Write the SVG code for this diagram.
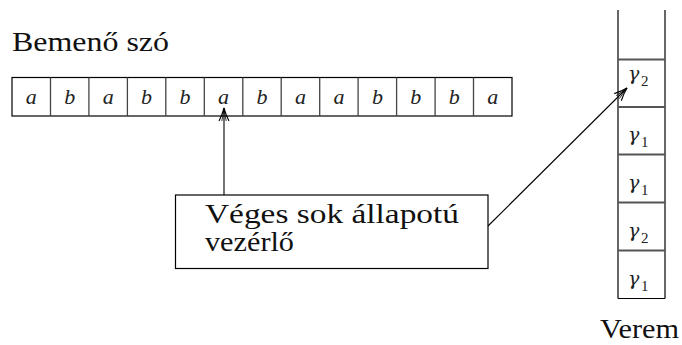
<svg xmlns="http://www.w3.org/2000/svg" width="682" height="345" viewBox="0 0 682 345">
  <style>
    .lbl { font-family: 'Liberation Serif', 'DejaVu Serif', serif; font-size: 28px; fill: #111; }
    .sym { font-family: 'Liberation Serif', 'DejaVu Serif', serif; font-style: italic; font-size: 22px; fill: #222; text-anchor: middle; }
    .gam { font-family: 'DejaVu Serif', 'Liberation Serif', serif; font-style: italic; font-size: 19px; fill: #222; }
    .sub { font-family: 'Liberation Serif', 'DejaVu Serif', serif; font-size: 15px; fill: #222; }
    .box { fill: #fff; stroke: #000; stroke-width: 1.2; }
    .div { stroke: #444; stroke-width: 1.3; }
    .sdiv { stroke: #555; stroke-width: 1.8; }
    .edge { stroke: #000; stroke-width: 1.1; fill: none; }
  </style>
  <defs>
    <marker id="arr" viewBox="-14 -7 16 14" markerWidth="16" markerHeight="14" refX="0" refY="0" orient="auto" markerUnits="userSpaceOnUse">
      <path d="M -13,-5 Q -6,-1.5 0,0 Q -6,1.5 -13,5" fill="none" stroke="#000" stroke-width="1.1"/>
      <path d="M -13,-2.2 Q -6,-0.6 0,0 Q -6,0.6 -13,2.2" fill="none" stroke="#000" stroke-width="0.8"/>
    </marker>
  </defs>

  <g id="label-input">
    <text class="lbl" x="12" y="51" textLength="157" lengthAdjust="spacingAndGlyphs">Bemenő szó</text>
  </g>

  <g id="tape">
    <rect class="box" x="12" y="77.5" width="500" height="38.5"/>
    <line class="div" x1="50.5" y1="77.5" x2="50.5" y2="116"/>
    <line class="div" x1="88.9" y1="77.5" x2="88.9" y2="116"/>
    <line class="div" x1="127.4" y1="77.5" x2="127.4" y2="116"/>
    <line class="div" x1="165.8" y1="77.5" x2="165.8" y2="116"/>
    <line class="div" x1="204.3" y1="77.5" x2="204.3" y2="116"/>
    <line class="div" x1="242.8" y1="77.5" x2="242.8" y2="116"/>
    <line class="div" x1="281.2" y1="77.5" x2="281.2" y2="116"/>
    <line class="div" x1="319.7" y1="77.5" x2="319.7" y2="116"/>
    <line class="div" x1="358.1" y1="77.5" x2="358.1" y2="116"/>
    <line class="div" x1="396.6" y1="77.5" x2="396.6" y2="116"/>
    <line class="div" x1="435.1" y1="77.5" x2="435.1" y2="116"/>
    <line class="div" x1="473.5" y1="77.5" x2="473.5" y2="116"/>
    <text class="sym" x="31.2" y="104">a</text>
    <text class="sym" x="69.7" y="104">b</text>
    <text class="sym" x="108.2" y="104">a</text>
    <text class="sym" x="146.6" y="104">b</text>
    <text class="sym" x="185.1" y="104">b</text>
    <text class="sym" x="223.5" y="104">a</text>
    <text class="sym" x="262" y="104">b</text>
    <text class="sym" x="300.5" y="104">a</text>
    <text class="sym" x="338.9" y="104">a</text>
    <text class="sym" x="377.4" y="104">b</text>
    <text class="sym" x="415.8" y="104">b</text>
    <text class="sym" x="454.3" y="104">b</text>
    <text class="sym" x="492.8" y="104">a</text>
  </g>

  <g id="control">
    <rect class="box" x="175.5" y="195" width="312.5" height="73.5"/>
    <text class="lbl" x="205" y="223" textLength="254" lengthAdjust="spacingAndGlyphs">Véges sok állapotú</text>
    <text class="lbl" x="205" y="251" textLength="89" lengthAdjust="spacingAndGlyphs">vezérlő</text>
  </g>

  <g id="stack">
    <line x1="618" y1="10" x2="618" y2="298.5" stroke="#000" stroke-width="1.2"/>
    <line x1="665" y1="10" x2="665" y2="298.5" stroke="#000" stroke-width="1.2"/>
    <line class="sdiv" x1="618" y1="59.5" x2="665" y2="59.5"/>
    <line class="sdiv" x1="618" y1="107" x2="665" y2="107"/>
    <line class="sdiv" x1="618" y1="154.5" x2="665" y2="154.5"/>
    <line class="sdiv" x1="618" y1="202.5" x2="665" y2="202.5"/>
    <line class="sdiv" x1="618" y1="250.5" x2="665" y2="250.5"/>
    <line x1="618" y1="298.5" x2="665" y2="298.5" stroke="#000" stroke-width="1.2"/>
    <text class="gam" x="628" y="80">γ</text><text class="sub" x="641" y="86">2</text>
    <text class="gam" x="628" y="141">γ</text><text class="sub" x="641" y="147">1</text>
    <text class="gam" x="628" y="189">γ</text><text class="sub" x="641" y="195">1</text>
    <text class="gam" x="628" y="237">γ</text><text class="sub" x="641" y="243">2</text>
    <text class="gam" x="628" y="285">γ</text><text class="sub" x="641" y="291">1</text>
  </g>

  <g id="label-stack">
    <text class="lbl" x="600" y="338" textLength="79" lengthAdjust="spacingAndGlyphs">Verem</text>
  </g>

  <g id="connectors">
    <line class="edge" x1="224" y1="195" x2="224" y2="108" marker-end="url(#arr)"/>
    <line class="edge" x1="488" y1="226" x2="627" y2="88" marker-end="url(#arr)"/>
  </g>
</svg>
